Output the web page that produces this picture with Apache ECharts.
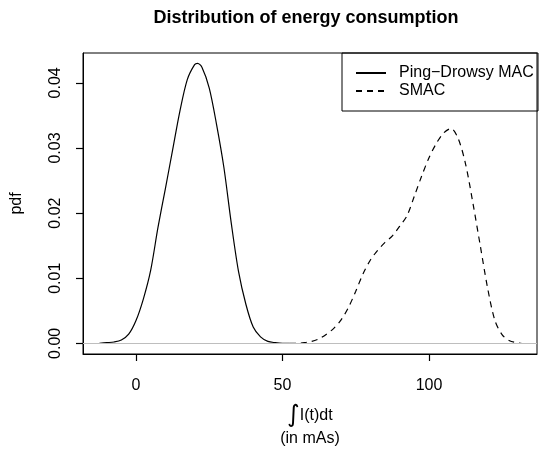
<!DOCTYPE html>
<html>
<head>
<meta charset="utf-8">
<script src="https://cdn.jsdelivr.net/npm/echarts@6/dist/echarts.min.js"></script>
<style>html,body{margin:0;padding:0;background:#fff}#c{width:539px;height:455px}</style>
</head>
<body>
<div id="c"></div>
<script>
// Ping-Drowsy MAC density
const pingX = [-12.5,-10,-7.5,-5,-2.5,0,2.5,5,7.5,10,12.5,15,17.5,20,21,22.5,25,27.5,30,32.5,35,37.5,40,42.5,45,47.5,50,52.5];
const pingY = [0,0.0001,0.0002,0.0005,0.0014,0.0035,0.0068,0.0112,0.0178,0.0237,0.0297,0.0357,0.0405,0.0428,0.0430,0.0424,0.0392,0.0336,0.0270,0.0185,0.0110,0.0060,0.0025,0.0010,0.0003,0.0001,0,0];
// SMAC density
const smacX = [52.5,55,57.5,60,62.5,65,67.5,70,72.5,75,77.5,80,82.5,85,87.5,90,92.5,95,97.5,100,102.5,105,107.5,110,112.5,115,117.5,120,122.5,125,127.5,130,131.5];
const smacY = [0,0,0.0001,0.0003,0.0007,0.0014,0.0023,0.0036,0.0055,0.0080,0.0107,0.0128,0.0143,0.0155,0.0165,0.0180,0.0196,0.0226,0.0257,0.0285,0.0307,0.0323,0.0330,0.0314,0.0275,0.0215,0.0150,0.0085,0.0035,0.0013,0.0004,0.0001,0];
const xTicks = [0,50,100];
const yTicks = [0,0.01,0.02,0.03,0.04];
const seriesNames = ['Ping\u2212Drowsy MAC','SMAC'];

const FONT = 'Liberation Sans';
const X_MIN = -18.09, X_MAX = 136.86, Y_MIN = -0.001638, Y_MAX = 0.04459;
const TICK = 7;

const chart = echarts.init(document.getElementById('c'));
chart.setOption({
  animation:false,
  title:{text:'Distribution of energy consumption',left:301,top:4,textAlign:'center',
    textStyle:{fontFamily:FONT,fontWeight:'bold',fontSize:18,color:'#000'}},
  grid:{left:83,right:2,top:53,bottom:100,show:true,borderColor:'#000',borderWidth:1},
  legend:{orient:'vertical',left:355,top:65,itemWidth:30,itemHeight:14,itemGap:2,padding:0,
    itemStyle:{color:'transparent',borderWidth:0,opacity:0},
    textStyle:{fontFamily:FONT,fontSize:16,color:'#000',padding:[0,0,0,8]},
    data:seriesNames},
  graphic:[{type:'rect',shape:{x:342,y:53,width:196,height:58},style:{fill:null,stroke:'#000',lineWidth:1},z:10}],
  xAxis:{type:'value',min:X_MIN,max:X_MAX,
    name:'{int|\u222B}I(t)dt\n(in mAs)',nameLocation:'middle',nameGap:50,
    nameTextStyle:{fontFamily:FONT,fontSize:16,color:'#000',lineHeight:23,
      rich:{int:{fontFamily:'DejaVu Sans',fontSize:24,lineHeight:23,color:'#000'}}},
    axisLine:{show:true,onZero:false,lineStyle:{color:'#000'}},splitLine:{show:false},
    axisTick:{show:true,length:TICK,customValues:xTicks,lineStyle:{color:'#000',width:1.2}},
    axisLabel:{customValues:xTicks,margin:24,fontFamily:FONT,fontSize:16,color:'#000'}},
  yAxis:{type:'value',min:Y_MIN,max:Y_MAX,
    name:'pdf',nameLocation:'middle',nameGap:58,nameRotate:90,
    nameTextStyle:{fontFamily:FONT,fontSize:16,color:'#000'},
    axisLine:{show:true,onZero:false,lineStyle:{color:'#000'}},splitLine:{show:false},
    axisTick:{show:true,length:TICK,customValues:yTicks,lineStyle:{color:'#000',width:1.2}},
    axisLabel:{customValues:yTicks,rotate:90,margin:19,fontFamily:FONT,fontSize:16,color:'#000',
      formatter:v=>v.toFixed(2)}},
  series:[
    {name:seriesNames[0],type:'line',symbol:'none',smooth:0.3,
      data:pingX.map((x,i)=>[x,pingY[i]]),
      lineStyle:{color:'#000',width:1.2,type:'solid'},itemStyle:{color:'#000'},
      markLine:{silent:true,symbol:'none',label:{show:false},
        lineStyle:{color:'#bebebe',type:'solid',width:1.2},data:[{yAxis:0}]},z:3},
    {name:seriesNames[1],type:'line',symbol:'none',smooth:0.3,
      data:smacX.map((x,i)=>[x,smacY[i]]),
      lineStyle:{color:'#000',width:1.2,type:[6,5]},itemStyle:{color:'#000'},z:3}
  ]
});
</script>
</body>
</html>
